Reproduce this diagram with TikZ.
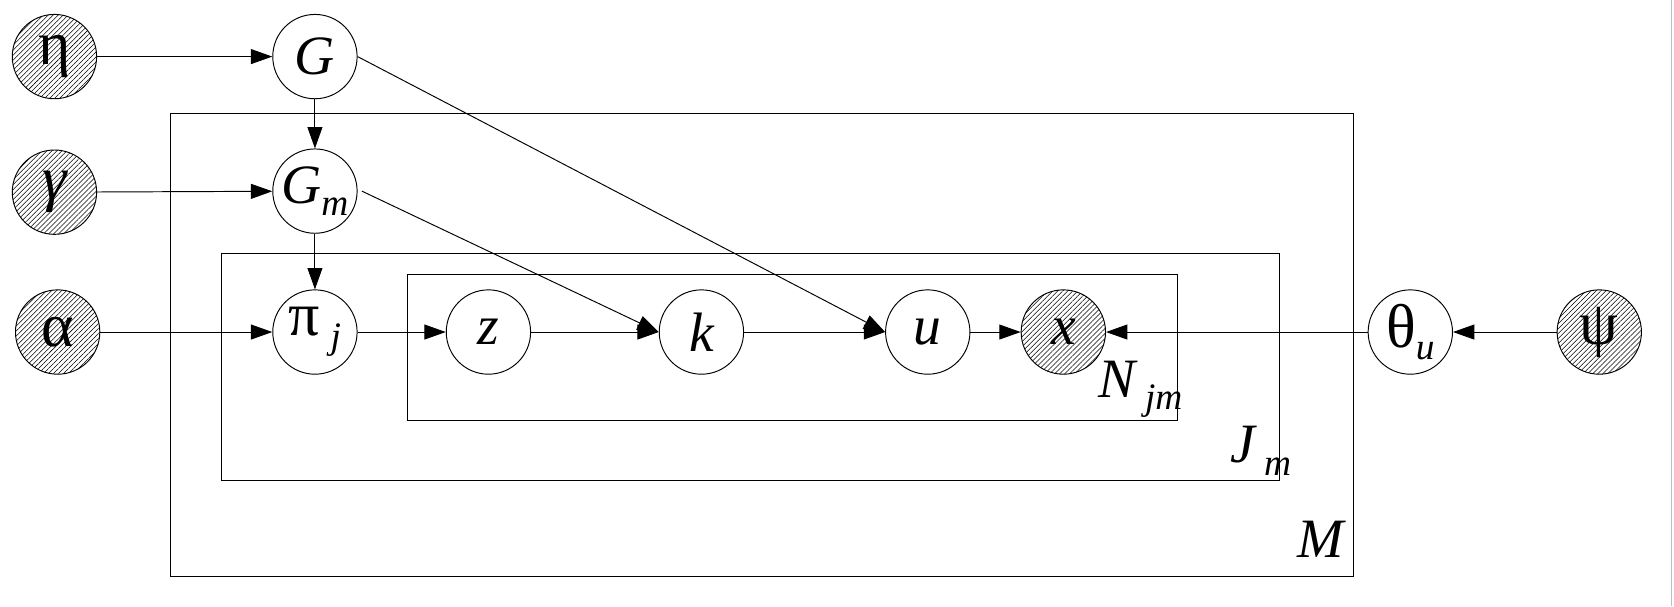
\documentclass[tikz,border=0pt]{standalone}
\usepackage{fontspec}
\setmainfont{Liberation Serif}
\usetikzlibrary{arrows.meta,patterns.meta}
\newcommand{\bigtxt}{\fontsize{52}{58}\selectfont}
\newcommand{\grk}{\fontsize{58}{64}\selectfont}
\newcommand{\subtxt}[1]{\raisebox{-12pt}{\fontsize{35}{40}\selectfont\itshape #1}}
\tikzset{
  var/.style={circle,draw=black,line width=0.9pt,minimum size=79pt,inner sep=0pt,font=\bigtxt},
  obs/.style={var,pattern={Lines[angle=45,distance=3.3pt,line width=0.5pt]}},
  edge/.style={line width=0.9pt,-{Triangle[length=20pt,width=14pt]}},
  plate/.style={draw=black,line width=0.9pt},
  platelabel/.style={font=\bigtxt\itshape,inner sep=0pt,anchor=base west}
}
\begin{document}
\begin{tikzpicture}[x=1pt,y=-1pt]
\useasboundingbox (0,0) rectangle (1568,568);
% plates
\draw[plate] (160,106) rectangle (1268,539.5);
\draw[plate] (207,237.5) rectangle (1198,449.6);
\draw[plate] (381.5,256.7) rectangle (1103,393.4);
\draw[line width=1pt,black!25] (1566,0) -- (1566,568);
% nodes
\node[obs] (eta) at (51,53) {\grk η};
\node[var] (G) at (295,53) {\itshape G};
\node[obs] (gamma) at (51,180) {\grk\itshape γ};
\node[var] (Gm) at (295,179) {\itshape G\subtxt{m}};
\node[obs] (alpha) at (54,311) {\grk α};
\node[var] (pi) at (295,311) {\grk π\,\subtxt{j}};
\node[var] (z) at (457.5,311) {\itshape z};
\node[var] (k) at (657,311) {\itshape k};
\node[var] (u) at (869,311) {\itshape u};
\node[obs] (x) at (996,311) {\itshape x};
\node[var] (theta) at (1321,311) {\grk θ\subtxt{u}};
\node[obs] (psi) at (1498,311) {\grk ψ};
% plate labels
\node[platelabel] (Nlab) at (1029,372) {N\,\subtxt{jm}};
\node[platelabel] (Jlab) at (1152,433) {J\,\subtxt{m}};
\node[platelabel] (Mlab) at (1215,522) {M};
% edges
\draw[edge] (eta) -- (G);
\draw[edge] (gamma) -- (Gm);
\draw[edge] (alpha) -- (pi);
\draw[edge] (G) -- (Gm);
\draw[edge] (Gm) -- (pi);
\draw[edge] (pi) -- (z);
\draw[edge] (z) -- (k);
\draw[edge] (k) -- (u);
\draw[edge] (u) -- (x);
\draw[edge] (theta) -- (x);
\draw[edge] (psi) -- (theta);
\draw[edge] (G.east) -- (u.west);
\draw[edge] ([xshift=4pt]Gm.east) -- (k.west);
\end{tikzpicture}
\end{document}
